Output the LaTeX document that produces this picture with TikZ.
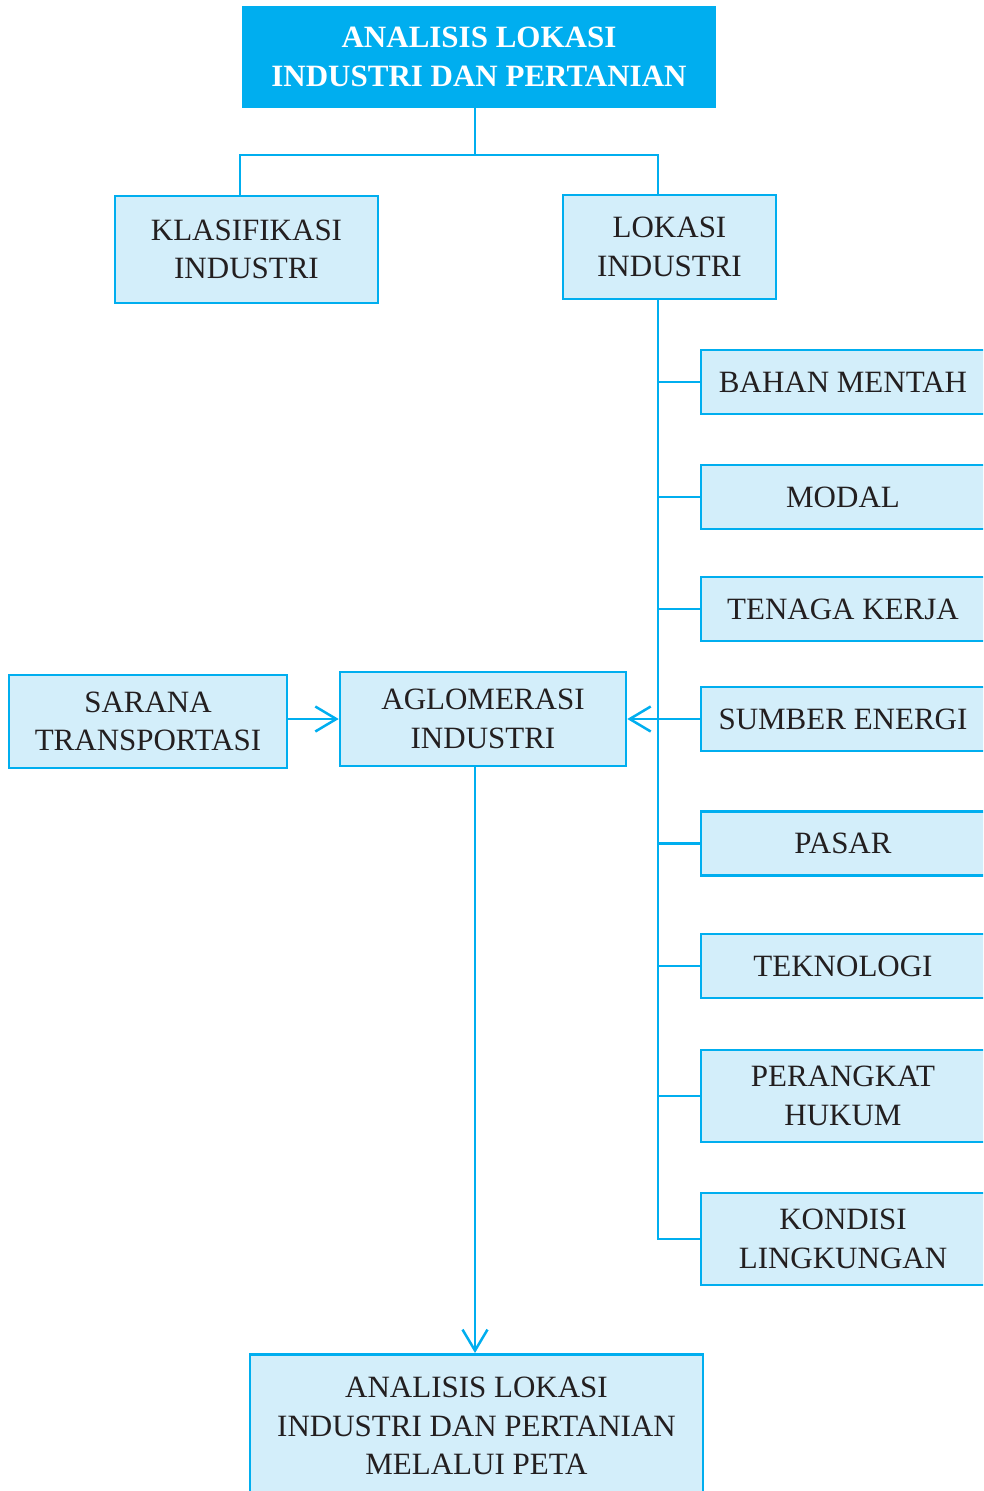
\documentclass[tikz,border=0pt]{standalone}
\usepackage{fontspec}
\setmainfont{Liberation Serif}
\usetikzlibrary{arrows.meta}
\definecolor{garis}{HTML}{00AEEF}
\definecolor{isi}{HTML}{D3EEFA}
\definecolor{teks}{HTML}{231F20}
\newcommand{\hrf}{\fontsize{31}{38.5}\selectfont}
\tikzset{
	kotak/.style={draw=garis, fill=isi, line width=2.5pt, align=center, inner sep=0pt, text=teks, font=\hrf},
	judul/.style={kotak, fill=garis, text=white, font=\hrf\bfseries},
	faktor/.style={kotak, minimum width=284pt, minimum height=64pt},
	sambung/.style={draw=garis, line width=2.5pt},
	panah/.style={sambung, -{Straight Barb[length=21pt,width=25pt,line width=2.5pt]}}
}
\begin{document}
\begin{tikzpicture}[x=1pt, y=-1pt]
		\useasboundingbox (0,0) rectangle (983,1491);
		\clip (0,0) rectangle (983,1491);

		%% Top
		\node[judul, minimum width=472pt, minimum height=100pt] at (479,57)(top){ANALISIS LOKASI\\INDUSTRI DAN PERTANIAN};

		\node[kotak, minimum width=263pt, minimum height=107pt] at (246.5,249.5)(klas){KLASIFIKASI\\INDUSTRI};
		\node[kotak, minimum width=213pt, minimum height=104pt] at (669.5,247)(lok){LOKASI\\INDUSTRI};

		\coordinate (fork) at (475,155);
		\coordinate (kl) at (240,155);
		\coordinate (lk) at (658,155);

		\draw[sambung] (fork |- top.south) -- (fork);
		\draw[sambung] (kl |- klas.north) -- (kl) -- (lk) -- (lk |- lok.north);

		%% Factors
		\node[faktor] at (843,382)(bahan){BAHAN MENTAH};
		\node[faktor] at (843,497)(modal){MODAL};
		\node[faktor] at (843,609)(tenaga){TENAGA KERJA};
		\node[faktor] at (843,719)(energi){SUMBER ENERGI};
		\node[faktor] at (843,843.5)(pasar){PASAR};
		\node[faktor] at (843,966)(tekno){TEKNOLOGI};
		\node[faktor, minimum height=92pt] at (843,1096)(hukum){PERANGKAT\\HUKUM};
		\node[faktor, minimum height=92pt] at (843,1239)(kondisi){KONDISI\\LINGKUNGAN};

		\draw[sambung] (lk |- lok.south) -- (lk |- kondisi.west) -- (kondisi.west);
		\path[sambung]
			(lk |- bahan.west) edge (bahan.west)
			(lk |- modal.west) edge (modal.west)
			(lk |- tenaga.west) edge (tenaga.west)
			(lk |- pasar.west) edge (pasar.west)
			(lk |- tekno.west) edge (tekno.west)
			(lk |- hukum.west) edge (hukum.west);

		%% Agglomeration
		\node[kotak, minimum width=286pt, minimum height=94pt] at (483,719)(aglo){AGLOMERASI\\INDUSTRI};
		\node[kotak, minimum width=278pt, minimum height=93pt] at (148,721.5)(sarana){SARANA\\TRANSPORTASI};

		\draw[panah] (energi.west) -- (aglo.east);
		\draw[panah] (sarana.east |- aglo) -- (aglo.west);

		%% Result
		\node[kotak, minimum width=453pt, minimum height=150pt, anchor=north] at (476.5,1353)(peta){};
		\node[font=\hrf, text=teks, align=center] at (476.5,1426)(petateks){ANALISIS LOKASI\\INDUSTRI DAN PERTANIAN\\MELALUI PETA};

		\draw[panah] (fork |- aglo.south) -- (fork |- peta.north);
\end{tikzpicture}
\end{document}
